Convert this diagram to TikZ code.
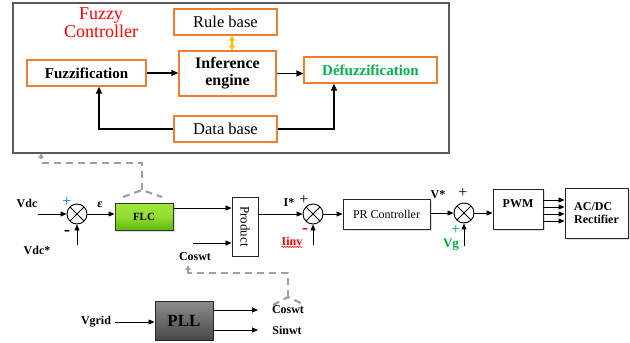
\documentclass[tikz,border=0pt]{standalone}
\usepackage{fontspec}
\setmainfont{Liberation Serif}
\usetikzlibrary{arrows.meta,shadows,decorations.pathmorphing}

\definecolor{boxorange}{RGB}{237,125,49}
\definecolor{linkgold}{RGB}{255,192,0}
\definecolor{defgreen}{RGB}{0,176,80}
\definecolor{sgngreen}{RGB}{0,170,60}
\definecolor{dashgray}{RGB}{160,160,160}
\definecolor{framegray}{RGB}{90,90,90}
\definecolor{sgnblue}{RGB}{0,112,192}
\definecolor{flclight}{RGB}{160,230,60}
\definecolor{flcdark}{RGB}{95,185,10}

\begin{document}
\begin{tikzpicture}[x=1pt,y=-1pt,
  fcbox/.style={draw=boxorange, line width=1.4pt, fill=white, inner sep=0pt, align=center,
                font=\fontsize{16.5}{17}\selectfont},
  blkplain/.style={draw=black!85, line width=0.9pt, fill=white, inner sep=0pt, align=center},
  blk/.style={blkplain,
              drop shadow={opacity=0.25,shadow xshift=1.5pt,shadow yshift=-1.5pt}},
  sumnode/.style={circle, draw, line width=0.9pt, fill=white, minimum size=20pt, inner sep=0pt,
    path picture={\draw[line width=0.9pt]
      (path picture bounding box.north west) -- (path picture bounding box.south east)
      (path picture bounding box.north east) -- (path picture bounding box.south west);}},
  sig/.style={-{Triangle[length=6pt,width=5pt]}, line width=0.8pt},
  fcarrow/.style={-{Triangle[length=7pt,width=6pt]}, line width=1.6pt},
  lbl/.style={inner sep=0pt, font=\fontsize{12}{14}\selectfont\bfseries},
  sgn/.style={inner sep=0pt, font=\fontsize{16}{16}\selectfont},
  dashlink/.style={draw=dashgray, line width=2.2pt, dash pattern=on 7pt off 5pt},
  dashtip/.style={-{Triangle[length=5pt,width=5pt]}}
]
\useasboundingbox (0,0) rectangle (630,343);

% ---------------- fuzzy controller structure ----------------
\node[draw=framegray, line width=1.2pt, minimum width=436pt, minimum height=150pt, inner sep=0pt]
  (fcframe) at (231,78) {};
\node[text=red, align=center, inner sep=0pt, font=\fontsize{18}{18}\selectfont]
  (fctitle) at (101,23) {Fuzzy\\Controller};

\node[fcbox, minimum width=103pt, minimum height=26pt] (rule) at (225.5,22) {Rule base};
\node[fcbox, minimum width=97pt, minimum height=45pt, font=\fontsize{16}{17}\selectfont\bfseries]
  (infer) at (227.5,73.5) {Inference\\engine};
\node[fcbox, minimum width=119pt, minimum height=26pt, font=\fontsize{15}{16}\selectfont\bfseries]
  (fuzzif) at (86.5,73) {Fuzzification};
\node[fcbox, minimum width=133pt, minimum height=26pt, text=defgreen,
  font=\fontsize{15}{16}\selectfont\bfseries] (defuzz) at (370.5,70) {Défuzzification};
\node[fcbox, minimum width=103pt, minimum height=26pt] (data) at (225.5,129) {Data base};

\coordinate (rx) at (232,0);
\coordinate (dbl) at (99,0);
\coordinate (dbr) at (334,0);
\draw[linkgold, line width=1.6pt, {Triangle[length=5pt,width=6pt]}-{Triangle[length=5pt,width=6pt]}]
  (rule.south -| rx) -- (infer.north -| rx);
\draw[fcarrow] (fuzzif.east) -- (infer.west |- fuzzif.east);
\draw[fcarrow] (infer.east) -- (defuzz.west |- infer.east);
\draw[fcarrow] (data.west) -| (fuzzif.south -| dbl);
\draw[fcarrow] (data.east) -| (defuzz.south -| dbr);

% ---------------- DC-link voltage loop ----------------
\node[sumnode] (sum1) at (77,214) {};
\node[lbl] (vdc) at (27,203) {Vdc};
\coordinate (vdcin) at (38,214);
\draw[sig] (vdcin) -- (sum1.west);
\node[lbl] (vdcs) at (37,250) {Vdc*};
\coordinate (vdcsin) at (77,245);
\draw[sig] (vdcsin) -- (sum1.south);
\node[sgn, text=sgnblue] (plus1) at (67,202) {+};
\node[sgn, font=\fontsize{18}{18}\selectfont\bfseries] (minus1) at (67,233) {-};
\node[lbl] (eps) at (100,205) {ε};

\node[draw=black!80, line width=1pt, top color=flclight, bottom color=flcdark,
  middle color=flclight!80!flcdark,
  minimum width=58pt, minimum height=27pt, inner sep=0pt,
  font=\fontsize{11}{12}\selectfont\bfseries,
  drop shadow={opacity=0.3,shadow xshift=1.5pt,shadow yshift=-1.5pt}]
  (flc) at (144,216.5) {FLC};
\draw[sig] (sum1.east) -- (flc.west |- sum1.east);

% rotated clockwise: its south side faces left, its north side faces right
\node[blkplain, rotate=-90, minimum width=59pt, minimum height=26pt, font=\fontsize{13}{14}\selectfont]
  (prod) at (245,226.5) {Product};
\coordinate (flcrow) at (0,208);
\draw[sig] (flc.east |- flcrow) -- (prod.south |- flcrow);
\coordinate (cosin) at (193,243);
\draw[sig] (cosin) -- (prod.south |- cosin);
\node[lbl] (coswt1) at (195,257) {Coswt};

% ---------------- current loop ----------------
\node[sumnode] (sum2) at (313,214) {};
\draw[sig] (prod.north |- sum2) -- (sum2.west);
\node[lbl] (istar) at (289,203) {I*};
\node[sgn] (plus2) at (304,200) {+};
\node[sgn, text=red, font=\fontsize{18}{18}\selectfont\bfseries] (minus2) at (305,231) {-};
\node[lbl, text=red] (iinv) at (292,241) {Iinv};
\draw[red, line width=0.5pt, decorate, decoration={snake, amplitude=0.7pt, segment length=2.5pt}]
  ([yshift=-1.5pt]iinv.south west) -- ([yshift=-1.5pt]iinv.south east);
\coordinate (iinvin) at (313,245);
\draw[sig] (iinvin) -- (sum2.south);

\node[blk, minimum width=87pt, minimum height=30pt, font=\fontsize{12}{14}\selectfont]
  (pr) at (386.5,214) {PR Controller};
\draw[sig] (sum2.east) -- (pr.west);

% ---------------- voltage feed-forward and modulation ----------------
\node[sumnode] (sum3) at (464,213) {};
\draw[sig] (pr.east |- sum3) -- (sum3.west);
\node[lbl] (vstar) at (438,195) {V*};
\node[sgn] (plus3) at (463,193) {+};
\node[sgn, text=sgngreen] (plus4) at (456,229.5) {+};
\node[lbl, text=sgngreen, font=\fontsize{13}{14}\selectfont\bfseries] (vg) at (451,245) {Vg};
\coordinate (vgin) at (464,246);
\draw[sig] (vgin) -- (sum3.south);

\node[blk, minimum width=50pt, minimum height=40pt, text height=8pt, text depth=12pt,
  font=\fontsize{12}{14}\selectfont\bfseries] (pwm) at (518,209) {PWM};
\draw[sig] (sum3.east) -- (pwm.west |- sum3);

\node[blk, minimum width=63pt, minimum height=50pt, align=left,
  font=\fontsize{12}{13}\selectfont\bfseries] (acdc) at (596.5,213) {AC/DC\\Rectifier};
\foreach \yy in {200,207,214,221}
  \draw[sig] (pwm.east |- 0,\yy) -- (acdc.west |- 0,\yy);

% ---------------- phase-locked loop ----------------
\node[draw=black!85, line width=0.8pt, top color=black!45, bottom color=black!72,
  minimum width=58pt, minimum height=39pt, inner sep=0pt,
  font=\fontsize{17}{19}\selectfont\bfseries] (pll) at (184,320.5) {PLL};
\node[lbl] (vgrid) at (96,322) {Vgrid};
\coordinate (vgridout) at (115,322);
\draw[sig] (vgridout) -- (pll.west |- vgridout);
\coordinate (cosend) at (258,310);
\coordinate (sinend) at (258,330);
\draw[sig] (pll.east |- cosend) -- (cosend);
\draw[sig] (pll.east |- sinend) -- (sinend);
\node[lbl] (coswt2) at (288,310) {Coswt};
\node[lbl] (sinwt) at (287,330) {Sinwt};

% ---------------- dashed references ----------------
\coordinate (flcY) at (142,190);
\coordinate (flcYl) at (123,197);
\coordinate (flcYr) at (162,197);
\coordinate (flcUp) at (142,163);
\coordinate (fcin) at (41,153);
\draw[dashlink] (flcYl) -- (flcY) -- (flcYr);
\draw[dashlink, dashtip] (flcY) -- (flcUp) -| (fcin);

\coordinate (pllY) at (288,297);
\coordinate (pllYl) at (273,305);
\coordinate (pllYr) at (305,305);
\coordinate (pllUp) at (288,273);
\coordinate (cosref) at (188,265);
\draw[dashlink] (pllYl) -- (pllY) -- (pllYr);
\draw[dashlink, dashtip] (pllY) -- (pllUp) -| (cosref);
\end{tikzpicture}
\end{document}
